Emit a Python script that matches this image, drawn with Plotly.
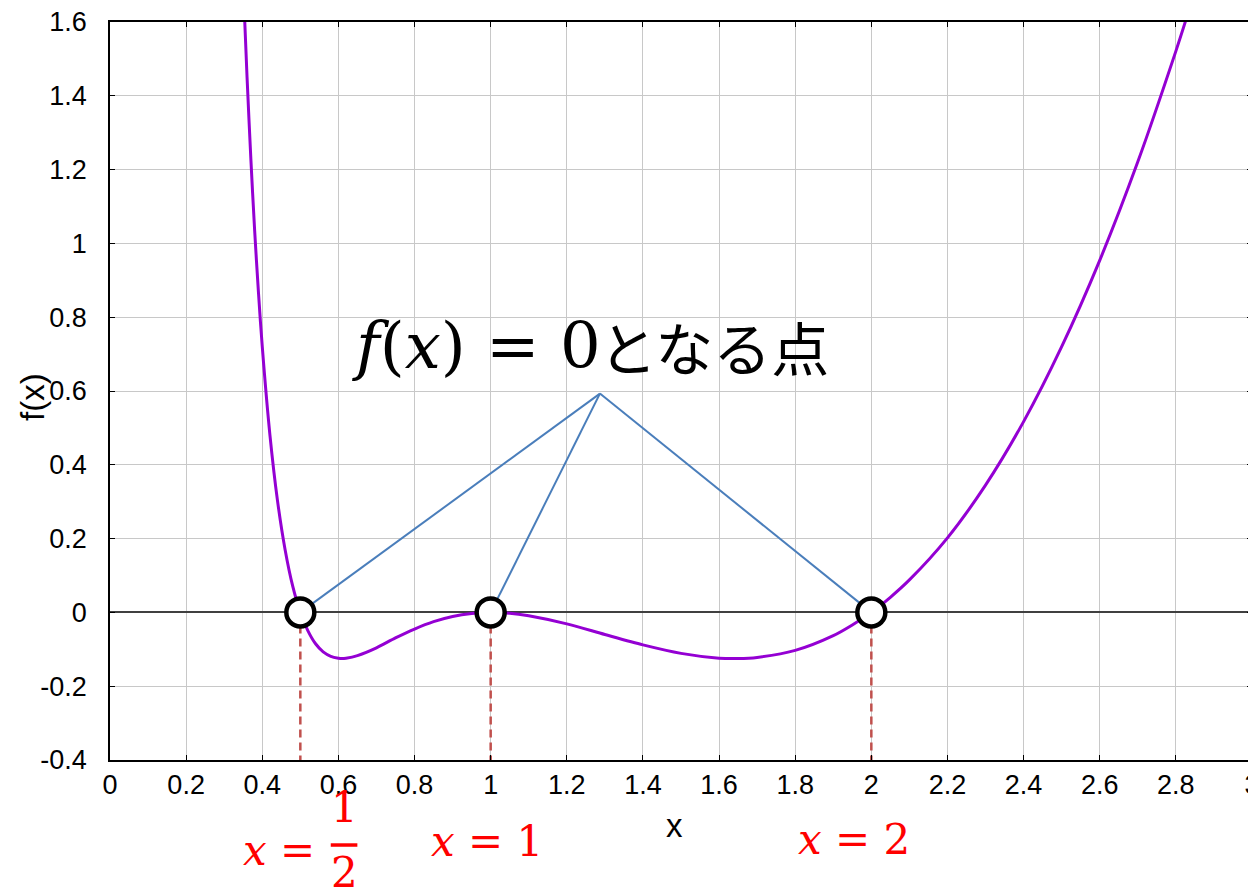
import plotly.graph_objects as go

# curve values
curve_x = [0.354, 0.36, 0.37, 0.38, 0.39, 0.40, 0.42, 0.44, 0.46, 0.48, 0.50,
           0.52, 0.54, 0.56, 0.58, 0.60, 0.61, 0.62, 0.65, 0.70, 0.75, 0.80, 0.85, 0.90, 0.95, 1.0,
           1.05, 1.1, 1.2, 1.3, 1.4, 1.5, 1.6, 1.65, 1.7, 1.8, 1.9, 1.95, 2.0,
           2.05, 2.1, 2.2, 2.3, 2.4, 2.5, 2.6, 2.7, 2.8, 2.825]
curve_y = [1.601, 1.451, 1.229, 1.035, 0.867, 0.72, 0.482, 0.303, 0.170, 0.071, 0.0,
           -0.050, -0.085, -0.107, -0.119, -0.124, -0.125, -0.124, -0.117, -0.096, -0.069, -0.045,
           -0.025, -0.011, -0.003, 0.0,
           -0.002, -0.009, -0.031, -0.060, -0.088, -0.111, -0.124, -0.125, -0.122, -0.103, -0.063,
           -0.034, 0.0,
           0.041, 0.088, 0.202, 0.345, 0.517, 0.72, 0.954, 1.221, 1.521, 1.601]

root_x = [0.5, 1, 2]
root_y = [0, 0, 0]
apex_x = 1.287
apex_y = 0.593

x_ticks = [0, 0.2, 0.4, 0.6, 0.8, 1, 1.2, 1.4, 1.6, 1.8, 2, 2.2, 2.4, 2.6, 2.8, 3]
x_ticktext = ["0", "0.2", "0.4", "0.6", "0.8", "1", "1.2", "1.4", "1.6", "1.8",
              "2", "2.2", "2.4", "2.6", "2.8", "3"]
y_ticks = [-0.4, -0.2, 0, 0.2, 0.4, 0.6, 0.8, 1, 1.2, 1.4, 1.6]
y_ticktext = ["-0.4", "-0.2", "0", "0.2", "0.4", "0.6", "0.8", "1", "1.2", "1.4", "1.6"]

fig = go.Figure()

# blue pointer lines from the label to each root
for rx, ry in zip(root_x, root_y):
    fig.add_trace(go.Scatter(x=[apex_x, rx], y=[apex_y, ry], mode="lines",
                             line=dict(color="#4a7ebb", width=2), hoverinfo="skip"))

# red dashed drop lines
for rx in root_x:
    fig.add_trace(go.Scatter(x=[rx, rx], y=[0, -0.4], mode="lines",
                             line=dict(color="#c0504d", width=2.5, dash="8px,5px"),
                             hoverinfo="skip"))

fig.add_trace(go.Scatter(x=curve_x, y=curve_y, mode="lines",
                         line=dict(color="#9400d3", width=3, shape="spline", smoothing=0.8)))

fig.add_trace(go.Scatter(x=root_x, y=root_y, mode="markers",
                         marker=dict(size=28, color="white", line=dict(color="black", width=4.5)),
                         cliponaxis=False))

axis_font = dict(family="Liberation Sans, Arial", size=27, color="black")

fig.update_xaxes(range=[0, 3], tickvals=x_ticks, ticktext=x_ticktext, automargin=False,
                 showgrid=True, gridcolor="#c8c8c8", gridwidth=1,
                 zeroline=False, showline=True, linecolor="black", linewidth=1.5,
                 mirror="ticks", ticks="inside", ticklen=5, tickcolor="black",
                 tickfont=axis_font, ticklabelstandoff=0, ticklabeloverflow="allow")
fig.update_yaxes(range=[-0.4, 1.6], tickvals=y_ticks, ticktext=y_ticktext, automargin=False,
                 showgrid=True, gridcolor="#c8c8c8", gridwidth=1,
                 zeroline=True, zerolinecolor="#404040", zerolinewidth=1.5,
                 showline=True, linecolor="black", linewidth=1.5,
                 mirror="ticks", ticks="inside", ticklen=5, tickcolor="black",
                 tickfont=axis_font, ticklabelstandoff=16, ticklabeloverflow="allow")

math_font = "DejaVu Serif"
red = "#ff0000"
title_font = dict(family="Liberation Sans, Arial", size=33, color="black")

annotations = [
    # axis titles
    dict(x=1.484, y=-0.0894, xref="x", yref="paper", text="x", showarrow=False,
         xanchor="center", yanchor="middle", font=title_font),
    dict(x=-0.0674, y=0.492, xref="paper", yref="paper", text="f(x)", showarrow=False,
         textangle=-90, xanchor="center", yanchor="middle", font=title_font),
    # pointer label
    dict(x=1.295, y=0.561, xref="x", yref="paper", xanchor="right", yanchor="middle",
         text="<i>f</i>(<i>x</i>) = 0", showarrow=False,
         font=dict(family=math_font, size=64, color="black")),
    dict(x=1.279, y=0.561, xref="x", yref="paper", xanchor="left", yanchor="middle",
         text="となる点", showarrow=False,
         font=dict(family="Noto Sans CJK JP", size=58, color="black")),
    # root labels
    dict(x=0.990, y=-0.111, xref="x", yref="paper", xanchor="center", yanchor="middle",
         text="<i>x</i> = 1", showarrow=False, font=dict(family=math_font, size=42, color=red)),
    dict(x=1.954, y=-0.108, xref="x", yref="paper", xanchor="center", yanchor="middle",
         text="<i>x</i> = 2", showarrow=False, font=dict(family=math_font, size=42, color=red)),
    dict(x=0.444, y=-0.122, xref="x", yref="paper", xanchor="center", yanchor="middle",
         text="<i>x</i> =", showarrow=False, font=dict(family=math_font, size=42, color=red)),
    dict(x=0.615, y=-0.065, xref="x", yref="paper", xanchor="center", yanchor="middle",
         text="1", showarrow=False, font=dict(family=math_font, size=42, color=red)),
    dict(x=0.615, y=-0.153, xref="x", yref="paper", xanchor="center", yanchor="middle",
         text="2", showarrow=False, font=dict(family=math_font, size=42, color=red)),
]

# the page body adds an 8px offset, so the figure is sized and margined to compensate
fig.update_layout(
    width=1248, height=883,
    margin=dict(l=102, r=4, t=14, b=131),
    plot_bgcolor="white", paper_bgcolor="white",
    showlegend=False,
    annotations=annotations,
    shapes=[dict(type="line", xref="paper", yref="paper",
                 x0=0.1933, x1=0.2166, y0=-0.1152, y1=-0.1152,
                 line=dict(color=red, width=3.5))],
)

fig.write_html("out.html")
